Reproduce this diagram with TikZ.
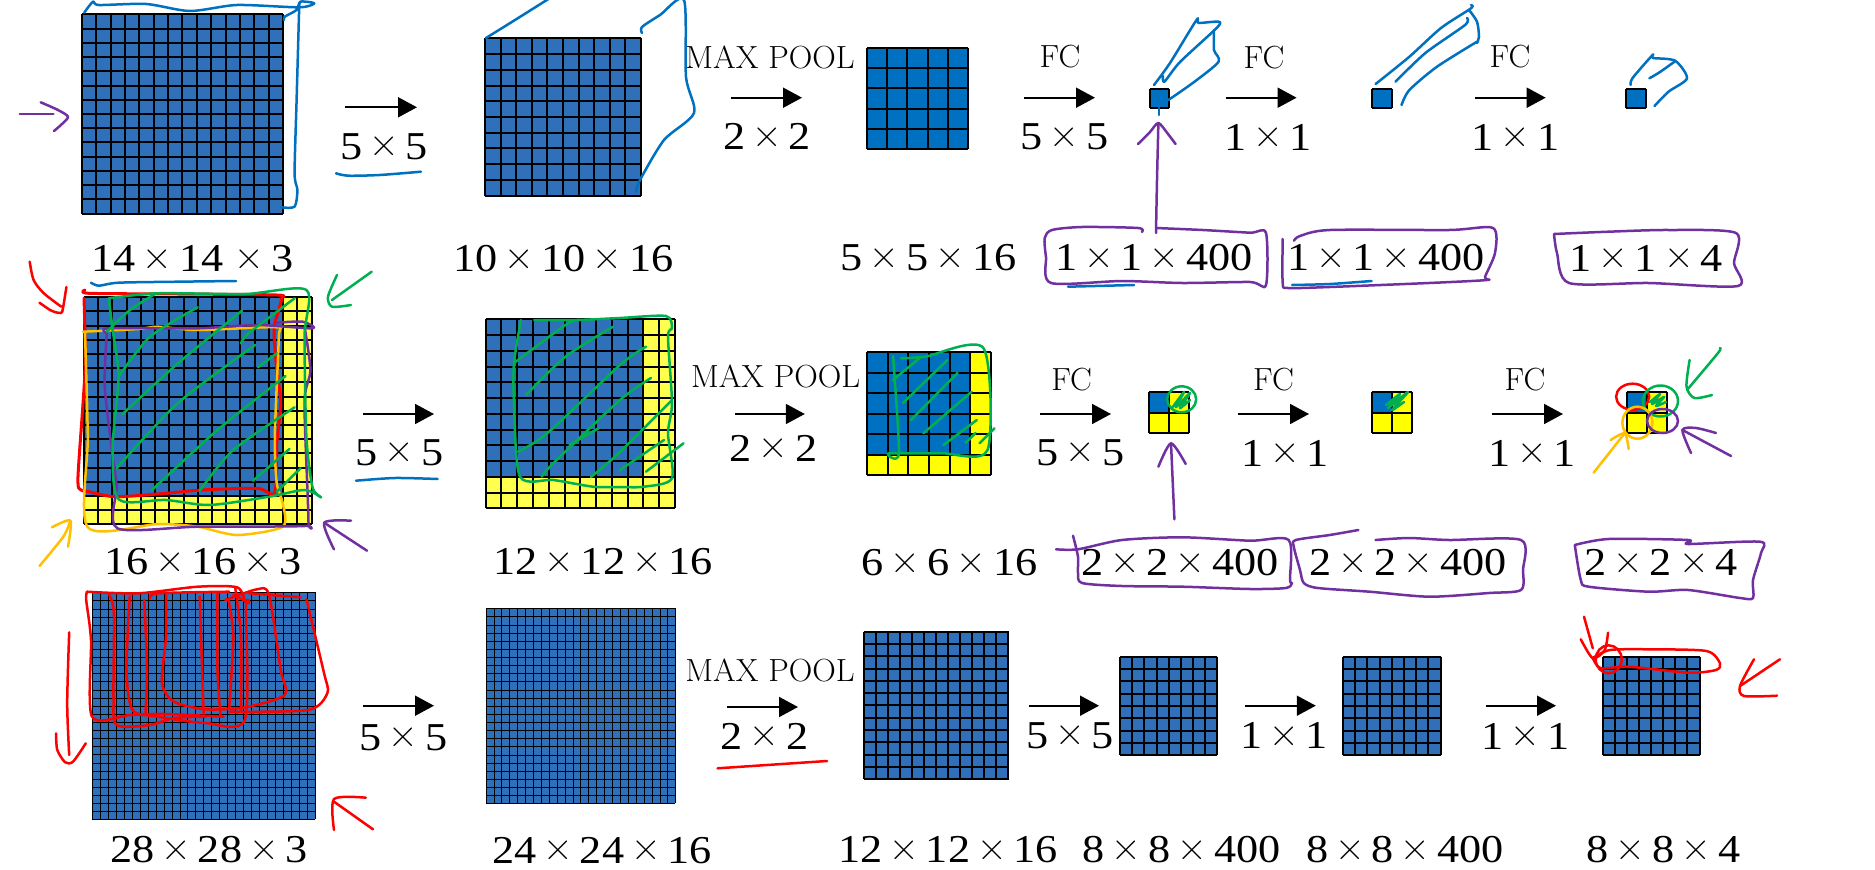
\documentclass[tikz,border=0pt]{standalone}
\usepackage{fontspec}
\usepackage{newunicodechar}
\newfontfamily\dimfont[FakeStretch=1.12]{Liberation Serif}
\newunicodechar{×}{\raisebox{2.5pt}{\fontfamily{lmr}\fontsize{41}{41}\selectfont\char"00D7}}
\usetikzlibrary{arrows.meta}
\definecolor{gblue}{HTML}{2E70B9}
\definecolor{sblue}{HTML}{0070C0}
\definecolor{gyel}{HTML}{FFFF4D}
\definecolor{syel}{HTML}{FFFF00}
\definecolor{pblue}{HTML}{0070C0}
\definecolor{ppur}{HTML}{7030A0}
\definecolor{pgreen}{HTML}{00B050}
\definecolor{pred}{HTML}{FF0000}
\definecolor{porange}{HTML}{FFC000}
\tikzset{
  pen/.style={line width=2.5pt,line cap=round,line join=round},
  flow/.style={line width=1.8pt,black,-{Triangle[length=19pt,width=20pt]}},
  gridline/.style={black,line width=#1},
  dimtext/.style={inner sep=0pt,outer sep=0pt,anchor=center},
}
% sized label
\newcommand{\lb}[4]{\node[dimtext] (#1) at (#2,#3) {\dimfont\fontsize{39.5}{40}\selectfont\spaceskip=7pt\relax #4};}
\newcommand{\cpt}[4]{\node[dimtext] (#1) at (#2,#3) {\scalebox{1.02}[1]{\fontsize{32}{32}\selectfont #4}};}
\newcommand{\arr}[4]{\coordinate (#1s) at (#2,#4); \coordinate (#1e) at (#3,#4); \draw[flow] (#1s) -- (#1e);}
\newcommand{\pn}[2]{\draw[pen,#1] plot[smooth,tension=.45] coordinates {#2};}
\newcommand{\pth}[2]{\draw[pen,#1,line width=3pt] plot[smooth,tension=.45] coordinates {#2};}
\newcommand{\el}[5]{\draw[pen,#1] (#2,#3) ellipse [x radius=#4pt,y radius=#5pt];}
% x0 y0 x1 y1 n m(blue cells) blue yellow linewidth
\newcommand{\grd}[9]{%
  \fill[#8] (#1,#2) rectangle (#3,#4);
  \pgfmathsetmacro{\gdx}{(#3-#1)/#5}\pgfmathsetmacro{\gdy}{(#4-#2)/#5}
  \pgfmathsetmacro{\gbx}{#1+#6*\gdx}\pgfmathsetmacro{\gby}{#2+#6*\gdy}
  \pgfmathsetmacro{\goff}{#9<1.2?0.5:0}
  \fill[#7] (#1,#2) rectangle (\gbx,\gby);
  \foreach \gi in {0,...,#5}{
    \pgfmathsetmacro{\gx}{round(#1+\gi*\gdx)+\goff}\pgfmathsetmacro{\gy}{round(#2+\gi*\gdy)+\goff}
    \draw[gridline=#9] (\gx,#2) -- (\gx,#4);
    \draw[gridline=#9] (#1,\gy) -- (#3,\gy);
  }%
}
\begin{document}
\begin{tikzpicture}[x=1pt,y=-1pt]
\useasboundingbox (0,0) rectangle (1875,870);
% ---------- grids
\grd{82}{14.3}{283}{213.7}{14}{14}{gblue}{gblue}{1.5}
\grd{485}{38.3}{641}{195.7}{10}{10}{gblue}{gblue}{1.5}
\grd{867}{47.7}{968}{149.3}{5}{5}{sblue}{sblue}{1.5}
\grd{1149.5}{88.7}{1169}{108.3}{1}{1}{sblue}{sblue}{1.5}
\grd{1371.6}{88.7}{1391.5}{108.3}{1}{1}{sblue}{sblue}{1.5}
\grd{1626}{88.7}{1646}{108.3}{1}{1}{sblue}{sblue}{1.5}
\grd{84}{297.3}{311.6}{524.3}{16}{14}{gblue}{gyel}{1.5}
\grd{485.6}{319.3}{675}{508.3}{12}{10}{gblue}{gyel}{1.5}
\grd{867}{352.3}{991}{475}{6}{5}{sblue}{syel}{1.5}
\grd{1149}{391.7}{1189.3}{433.3}{2}{1}{sblue}{syel}{1.5}
\grd{1371.6}{391.7}{1412}{433.3}{2}{1}{sblue}{syel}{1.5}
\grd{1626.6}{391.7}{1666.5}{433.3}{2}{1}{sblue}{syel}{1.5}
\grd{92}{592.3}{314.8}{819.3}{28}{28}{gblue}{gblue}{1}
\grd{485.6}{608.3}{675.4}{803.3}{24}{24}{gblue}{gblue}{1}
\grd{863.5}{631.7}{1008.5}{779.3}{12}{12}{gblue}{gblue}{1.5}
\grd{1120}{656.7}{1217.4}{755.3}{8}{8}{gblue}{gblue}{1.5}
\grd{1343}{656.7}{1440.5}{755.3}{8}{8}{gblue}{gblue}{1.5}
\grd{1602.7}{656.7}{1699.6}{755.3}{8}{8}{gblue}{gblue}{1.5}
% ---------- arrows
\arr{a1}{345}{417}{107.3}
\arr{a2}{730.5}{802}{97.7}
\arr{a3}{1024}{1095}{97.7}
\arr{a4}{1225.5}{1296.6}{97.7}
\arr{a5}{1475}{1545.7}{97.7}
\arr{b1}{363}{434}{414}
\arr{b2}{734.5}{804.8}{414}
\arr{b3}{1040}{1111}{414}
\arr{b4}{1238}{1309}{414}
\arr{b5}{1492}{1563}{414}
\arr{c1}{363}{434}{705.7}
\arr{c2}{727}{798}{707}
\arr{c3}{1028.6}{1099}{705.7}
\arr{c4}{1244.8}{1315.8}{705.7}
\arr{c5}{1486}{1556}{705.7}
% ---------- labels row 1
\lb{la1}{384}{146.7}{5 × 5}
\cpt{ca2}{770}{57}{MAX POOL}
\lb{la2}{767}{136.7}{2 × 2}
\cpt{ca3}{1060}{57}{FC}
\lb{la3}{1064.5}{137}{5 × 5}
\cpt{ca4}{1264}{58}{FC}
\lb{la4}{1268}{137}{1 × 1}
\cpt{ca5}{1510}{57}{FC}
\lb{la5}{1515.7}{137}{1 × 1}
\lb{sa1}{192.5}{259}{14 × 14\hspace{.1em} × 3}
\lb{sa2}{563.5}{259}{10 × 10 × 16}
\lb{sa3}{928.5}{258}{5 × 5 × 16}
\lb{sa4}{1154}{258}{1 × 1 × 400}
\lb{sa5}{1386}{258}{1 × 1 × 400}
\lb{sa6}{1646}{258}{1 × 1 × 4}
% ---------- labels row 2
\lb{lb1}{399.4}{452.7}{5 × 5}
\cpt{cb2}{775.6}{376}{MAX POOL}
\lb{lb2}{773.4}{448.3}{2 × 2}
\cpt{cb3}{1071.6}{380}{FC}
\lb{lb3}{1080.6}{452.7}{5 × 5}
\cpt{cb4}{1273.5}{380}{FC}
\lb{lb4}{1285}{453}{1 × 1}
\cpt{cb5}{1525}{380}{FC}
\lb{lb5}{1532}{453}{1 × 1}
\lb{sb1}{203}{561.7}{16 × 16 × 3}
\lb{sb2}{603}{561.7}{12 × 12 × 16}
\lb{sb3}{949.6}{562.7}{6 × 6 × 16}
\lb{sb4}{1180}{562.7}{2 × 2 × 400}
\lb{sb5}{1408}{562.7}{2 × 2 × 400}
\lb{sb6}{1661}{562.7}{2 × 2 × 4}
% ---------- labels row 3
\lb{lc1}{403.7}{737.7}{5 × 5}
\cpt{cc2}{770}{670}{MAX POOL}
\lb{lc2}{764.6}{736}{2 × 2}
\lb{lc3}{1070}{735.7}{5 × 5}
\lb{lc4}{1284}{735.7}{1 × 1}
\lb{lc5}{1525.7}{736}{1 × 1}
\lb{sc1}{209}{850}{28 × 28 × 3}
\lb{sc2}{602}{850.5}{24 × 24 × 16}
\lb{sc3}{948}{850}{12 × 12 × 16}
\lb{sc4}{1181.6}{850}{8 × 8 × 400}
\lb{sc5}{1405}{850}{8 × 8 × 400}
\lb{sc6}{1663.5}{850}{8 × 8 × 4}
% ---------- row 1 ink
\pn{ppur}{(19.8,114) (35,114) (53.4,114)}
\pn{ppur}{(40.7,102.3) (58,110) (68,116.7) (62,124) (54,131)}
\pn{pblue}{(84.2,12.7) (93,1.7) (99,5) (146.3,4) (190,11) (237,5) (299.3,7.3) (314.3,3.3) (300.5,1.7) (296.6,10) (284.7,16.7) (284,20)}
\pn{pblue}{(299.3,3.3) (296.6,100) (294.6,173.3) (297.4,190) (294.6,206.7) (281.5,207.3)}
\pn{pblue}{(336,173.3) (348,175.7) (379.6,175) (421,171.7)}
\pn{pblue}{(91,282.7) (98.9,285.7) (118.6,282.7) (178,281.7) (236,281)}
\pn{pblue}{(486,38) (515,20) (550,-2)}
\pn{pblue}{(642,33) (642,27) (660,15) (684,0) (686,77) (694,113) (664,140) (640,180) (636,192)}
\pn{pblue}{(1154,85) (1170,63) (1196.5,20) (1198.5,23) (1218.6,21.7) (1216.6,28) (1180,62) (1164.4,81.7) (1163,76)}
\pn{pblue}{(1214,30) (1214,50) (1218.6,61.7) (1194.5,81.7) (1168.4,100)}
\pn{pblue}{(1159,108) (1159,115)}
\pn{pblue}{(1375.6,84) (1409.4,56.7) (1441,28) (1471,8.3) (1471,5)}
\pn{pblue}{(1395.5,81.7) (1425.4,53) (1465,25) (1467,18)}
\pn{pblue}{(1469,10) (1477,21.7) (1479,36.7) (1477,43)}
\pn{pblue}{(1477,41.7) (1437,66.7) (1409.4,90) (1401.5,105)}
\pn{pblue}{(1630.6,85) (1632.6,78) (1652.6,55) (1653,58) (1675,60.7) (1687,78.3) (1668.5,91.7) (1654.5,106)}
\pn{pblue}{(1649.4,78.3) (1660,72) (1674.5,61.7)}
\pn{pblue}{(1068,286.7) (1134,285)}
\pn{pblue}{(1292,285) (1330,284) (1371.6,281)}
\pn{ppur}{(1156,233) (1157,180) (1158.4,123)}
\pn{ppur}{(1138,144) (1150,132) (1158.4,123) (1168,134) (1175.6,144)}
\pn{ppur}{(1142,232) (1138,228) (1082,227) (1052,230) (1044.7,238) (1046,257) (1051,283) (1122,281) (1182.5,283) (1250,282) (1266,285) (1266,233) (1250,232.7) (1202.6,230) (1156,228)}
\pn{ppur}{(1282.7,239) (1282.7,283) (1288,288) (1329.7,287) (1429,283) (1487,280) (1485,277) (1495,253) (1493,228) (1449,230) (1330,230) (1300,236) (1294,240.7)}
\pn{ppur}{(1554,234) (1557,253) (1569,283) (1648.6,283) (1738,286) (1734,263) (1736,233) (1668.5,230) (1608.7,231.7) (1554,234)}
% ---------- row 2 ink, first grid
\pn{pred}{(29.7,261.7) (33.6,280) (43.5,293) (61.3,306.7)}
\pn{pred}{(66.4,287) (63,308) (61,313) (51.4,310.7) (39.5,302.7)}
\pn{pgreen}{(371.7,271.7) (332,300)}
\pn{pgreen}{(337,275) (328,296.7) (332,306.7) (351,305)}
\pth{pred}{(85,290) (89,293.3) (178,294) (276.8,295) (281.5,298.3) (278.8,310) (274,330) (276.8,370) (280.7,403) (276.8,443) (274.8,492.7) (257,488.3) (201.7,490) (158,494) (114.7,496.7) (89,491.7) (81,490) (78,476.7) (85,370) (84,298)}
\pn{porange}{(83,331.7) (138,329) (158,326.7) (197.7,330) (276.8,327.3) (278.8,336.7) (274.8,436.7) (276.8,483.3) (282.7,503) (282.7,526.7) (237,535) (197.7,526.7) (158,524) (87.8,527.3) (87.8,436.7) (85,331.7)}
\pn{ppur}{(106.8,333.3) (108.7,328.3) (197.7,328.3) (257,325) (312.4,328.3) (302.5,321.7) (276.8,322.7)}
\pn{ppur}{(304.5,326.7) (310.4,370) (304.5,403) (308.4,520) (304.5,526) (197.7,526.7) (117.4,528.3) (116.6,486.7) (112.7,456.7) (104.8,386.7) (106.8,333.3)}
\pn{pgreen}{(108.7,298.3) (158,293.3) (245,294) (306.4,290) (304.5,336.7) (306.4,436.7) (312.4,486.7) (321,497.3)}
\pn{pgreen}{(108.7,298.3) (112.7,330) (118.6,376.7) (112.7,446.7) (118.6,499.3) (166,500) (209.6,505) (268.9,496.7) (304.5,490) (321,497.3)}
\pn{pgreen}{(106.8,331.7) (130,310) (156,293.3)}
\pn{pgreen}{(118.6,376.7) (150,336.7) (197.7,307.3)}
\pn{pgreen}{(122.6,414) (178,363.3) (242,310.7)}
\pn{pgreen}{(116.6,468.3) (178,403) (255,345)}
\pn{pgreen}{(241,343.3) (249,333) (294.6,298.3)}
\pn{pgreen}{(152,490) (217.5,430) (285.5,376)}
\pn{pgreen}{(199.7,490.7) (233.3,450) (294.6,407.3)}
\pn{pgreen}{(253,480.7) (289.4,449)}
\pn{pgreen}{(276.8,491.7) (300.5,468.3)}
\pn{pgreen}{(257.8,367.3) (276.8,353.3)}
\pn{porange}{(39.5,566) (63.3,536.7) (70.4,520.7)}
\pn{porange}{(52,527.3) (70.4,520.7) (68,546.7)}
\pn{ppur}{(367,550.7) (324.2,522.7)}
\pn{ppur}{(351,520.7) (324.2,522.7) (334,549.3)}
\pn{pblue}{(356,480.7) (395,478) (437.7,479)}
% row 2, second grid
\pn{pgreen}{(521,320) (514,363) (514,403) (520,476.7) (553.6,480) (593,486.7) (620,487) (644,486.7) (672,478.3) (668,433.3) (672,403) (668,336.7) (672,328) (666,316) (620,318) (577,320) (534,320)}
\pn{pgreen}{(514,363) (565.4,325) (579,320)}
\pn{pgreen}{(526,395) (565.4,356.7) (613,326.7)}
\pn{pgreen}{(518,451.7) (547.6,433) (620,365) (646,346.7)}
\pn{pgreen}{(541.7,476.7) (553.6,463) (620,400) (651,378)}
\pn{pgreen}{(569.4,445) (599,428)}
\pn{pgreen}{(591,477) (620,452) (672,400)}
\pn{pgreen}{(620,470) (664,440)}
\pn{pgreen}{(646,471.7) (683.5,443.3)}
% row 2, third grid
\pn{pgreen}{(893,356) (899,453.3) (889,453.3) (941.4,453.3) (987.6,450) (983.6,348.3) (925,356.7) (901,358.3)}
\pn{pgreen}{(893,380) (921.3,356.7)}
\pn{pgreen}{(903,403) (947.4,360)}
\pn{pgreen}{(911,420) (957.5,373)}
\pn{pgreen}{(923.3,433.3) (971.6,391.7)}
\pn{pgreen}{(943.4,445) (976.8,420)}
\pn{pgreen}{(965.5,443) (975.6,433)}
\pn{pgreen}{(979.6,443.3) (994.5,428.3)}
% small squares
\el{pgreen}{1181.7}{399.3}{14.5}{13}
\pn{pgreen}{(1172,408) (1184,392) (1176,407) (1190,393) (1180,408) (1190,400)}
\pn{ppur}{(1174.4,519.3) (1171,443.3)}
\pn{ppur}{(1158.4,466.7) (1171,443.3) (1185.7,464)}
\pn{pgreen}{(1386,405) (1400,394) (1388,408) (1408,392) (1392,410) (1404,402)}
\el{pred}{1632.6}{396.7}{16.5}{13}
\el{pgreen}{1660.5}{401}{17.5}{15.5}
\pn{pgreen}{(1650,402) (1660,394) (1652,404) (1664,397) (1656,406) (1666,402)}
\el{porange}{1637.4}{422.7}{15}{16}
\el{ppur}{1662.5}{421}{15.5}{12}
\pn{pgreen}{(1720,348) (1718,353) (1687,390)}
\pn{pgreen}{(1689.6,360) (1686.5,386.7) (1694.4,398) (1712,395)}
\pn{porange}{(1593.6,472.7) (1624.7,433.3)}
\pn{porange}{(1610.7,440) (1624.7,433.3) (1628.6,449)}
\pn{ppur}{(1731,456) (1682.4,430)}
\pn{ppur}{(1716,433) (1696,428) (1682.4,430) (1691,453)}
% purple boxes row 2
\pn{ppur}{(1056,549.3) (1078,549.3) (1122,540) (1182.5,537.3) (1250,540.7) (1288.7,540) (1290,580) (1292,583) (1286,588) (1250,589) (1182.5,586.7) (1122,586) (1082,583) (1078,573) (1078,556.7) (1073,535.7)}
\pn{ppur}{(1358.4,530) (1329.7,535) (1295.8,540) (1293.8,546.7) (1300,570) (1303.8,583) (1317.8,588) (1369.6,591.7) (1429.4,596.7) (1489,593) (1521,590) (1523,570) (1521,540) (1449,540) (1409,538) (1375.5,540)}
\pn{ppur}{(1574.8,545) (1608.7,539) (1688,540) (1688,544) (1760,541.7) (1761,553) (1753,580) (1753,598) (1740,598) (1688,590) (1648.6,591.7) (1588.8,586.7) (1580.8,580) (1574.8,545)}
% ---------- row 3 ink
\pn{pred}{(87,591.7) (86.2,600) (91,640) (92,716.7) (130,715) (165,714) (223.4,716.7)}
\pn{pred}{(87,591.7) (138.4,593.3) (197.7,586.7) (237,587.3) (245,601.7)}
\pn{pred}{(108.7,594) (113.9,613) (113.5,696.7) (116.6,725) (150,725) (174,718) (205.6,716.7)}
\pn{pred}{(129.7,596.7) (126.5,670) (132.5,710) (158,716.7) (205.6,723) (245,719.3) (246,606.7) (249,603) (233.3,595)}
\pn{pred}{(144.3,600) (147,670) (145.5,713)}
\pn{pred}{(166,595) (166,636.7) (162,683) (174,701.7) (205.6,709.3) (245,707.3) (284.7,695) (280.7,670) (269,595) (257,589.3) (225.4,600)}
\pn{pred}{(199.7,596.7) (203.6,713)}
\pn{pred}{(217.5,593.3) (217.5,670) (220.6,716.7)}
\pn{pred}{(228.5,600) (233.3,636.7) (229.3,706.7)}
\pn{pred}{(235.3,588.3) (241,636.7) (241,710)}
\pn{pred}{(306.4,599.3) (324,673) (327.4,693) (308.4,710) (229.3,711.7)}
\pn{pred}{(150,598.3) (158,593.3) (229,591.7)}
\pn{pred}{(249,593.3) (300.5,597.3)}
\pn{pred}{(69.2,632.3) (67.2,703.3) (69.2,755)}
\pn{pred}{(56,733.3) (57.3,750) (65.2,762.3) (73,761.7) (85.8,743.3)}
\pn{pred}{(373,829.3) (334,801.7)}
\pn{pred}{(365.8,797.7) (334,799) (334,830)}
\pn{pred}{(717.6,768.3) (827,761)}
\pn{pred}{(1592.8,658) (1610,650) (1648.6,649.3) (1706.4,651) (1720,663.3) (1716,670) (1688.4,672.7) (1628.6,666.7) (1600.7,668.3) (1592.8,658)}
\el{pred}{1608.7}{659.3}{13}{14}
\pn{pred}{(1584,616.7) (1592.8,648.3)}
\pn{pred}{(1580.8,639.3) (1592.8,658.3) (1604.7,650) (1608,632.7)}
\pn{pred}{(1780,659.3) (1740,686)}
\pn{pred}{(1754,659.3) (1740,686) (1744,696) (1777,695.7)}
\end{tikzpicture}
\end{document}
